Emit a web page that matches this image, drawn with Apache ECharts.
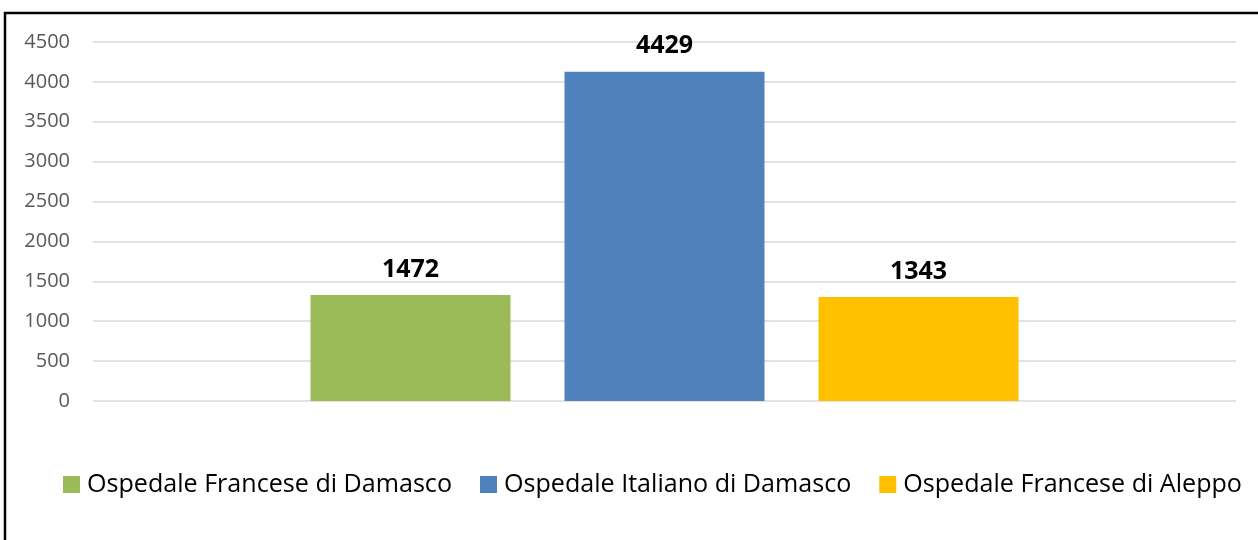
<!DOCTYPE html>
<html>
<head>
<meta charset="utf-8">
<script src="https://cdn.jsdelivr.net/npm/echarts@6/dist/echarts.min.js"></script>
<style>
html,body{margin:0;padding:0;background:#fff;}
#chart{width:1258px;height:540px;}
</style>
</head>
<body>
<div id="chart"></div>
<script>
// Data
const seriesNames = ['Ospedale Francese di Damasco', 'Ospedale Italiano di Damasco', 'Ospedale Francese di Aleppo'];
const barValues = [1329, 4128, 1304];        // bar heights as drawn
const labelTexts = ['1472', '4429', '1343']; // data labels as printed
const colors = ['#9BBB59', '#4F81BD', '#FFC000'];
const yTicks = { min: 0, max: 4500, interval: 500 };

const chart = echarts.init(document.getElementById('chart'));
const FONT = 'Open Sans';

const series = seriesNames.map((name, i) => ({
  name: name,
  type: 'bar',
  data: [barValues[i]],
  barWidth: 200,
  barGap: '27%',
  itemStyle: { color: colors[i] },
  label: {
    show: true,
    position: 'top',
    distance: 13,
    formatter: () => labelTexts[i],
    fontFamily: FONT,
    fontWeight: 'bold',
    fontSize: 25,
    color: '#000'
  }
}));

chart.setOption({
  animation: false,
  grid: { left: 93, right: 22, top: 42, bottom: 139 },
  graphic: [{
    type: 'rect',
    shape: { x: 5, y: 13, width: 1400, height: 700 },
    style: { fill: 'none', stroke: '#000', lineWidth: 2.5 },
    silent: true
  }],
  legend: {
    data: seriesNames,
    bottom: 43,
    left: 63,
    width: 1195,
    padding: 0,
    icon: 'rect',
    itemWidth: 17,
    itemHeight: 17,
    itemGap: 28,
    textStyle: { fontFamily: FONT, fontSize: 25.1, color: '#000', padding: [0, 0, 0, 2] }
  },
  xAxis: {
    type: 'category',
    data: [''],
    axisLine: { show: false },
    axisTick: { show: false },
    axisLabel: { show: false }
  },
  yAxis: {
    type: 'value',
    min: yTicks.min,
    max: yTicks.max,
    interval: yTicks.interval,
    axisLine: { show: false },
    axisTick: { show: false },
    axisLabel: { fontFamily: FONT, fontSize: 20, color: '#595959', margin: 23, formatter: v => String(v) },
    splitLine: { lineStyle: { color: '#d9d9d9', width: 1.5 } }
  },
  series: series
});
</script>
</body>
</html>
